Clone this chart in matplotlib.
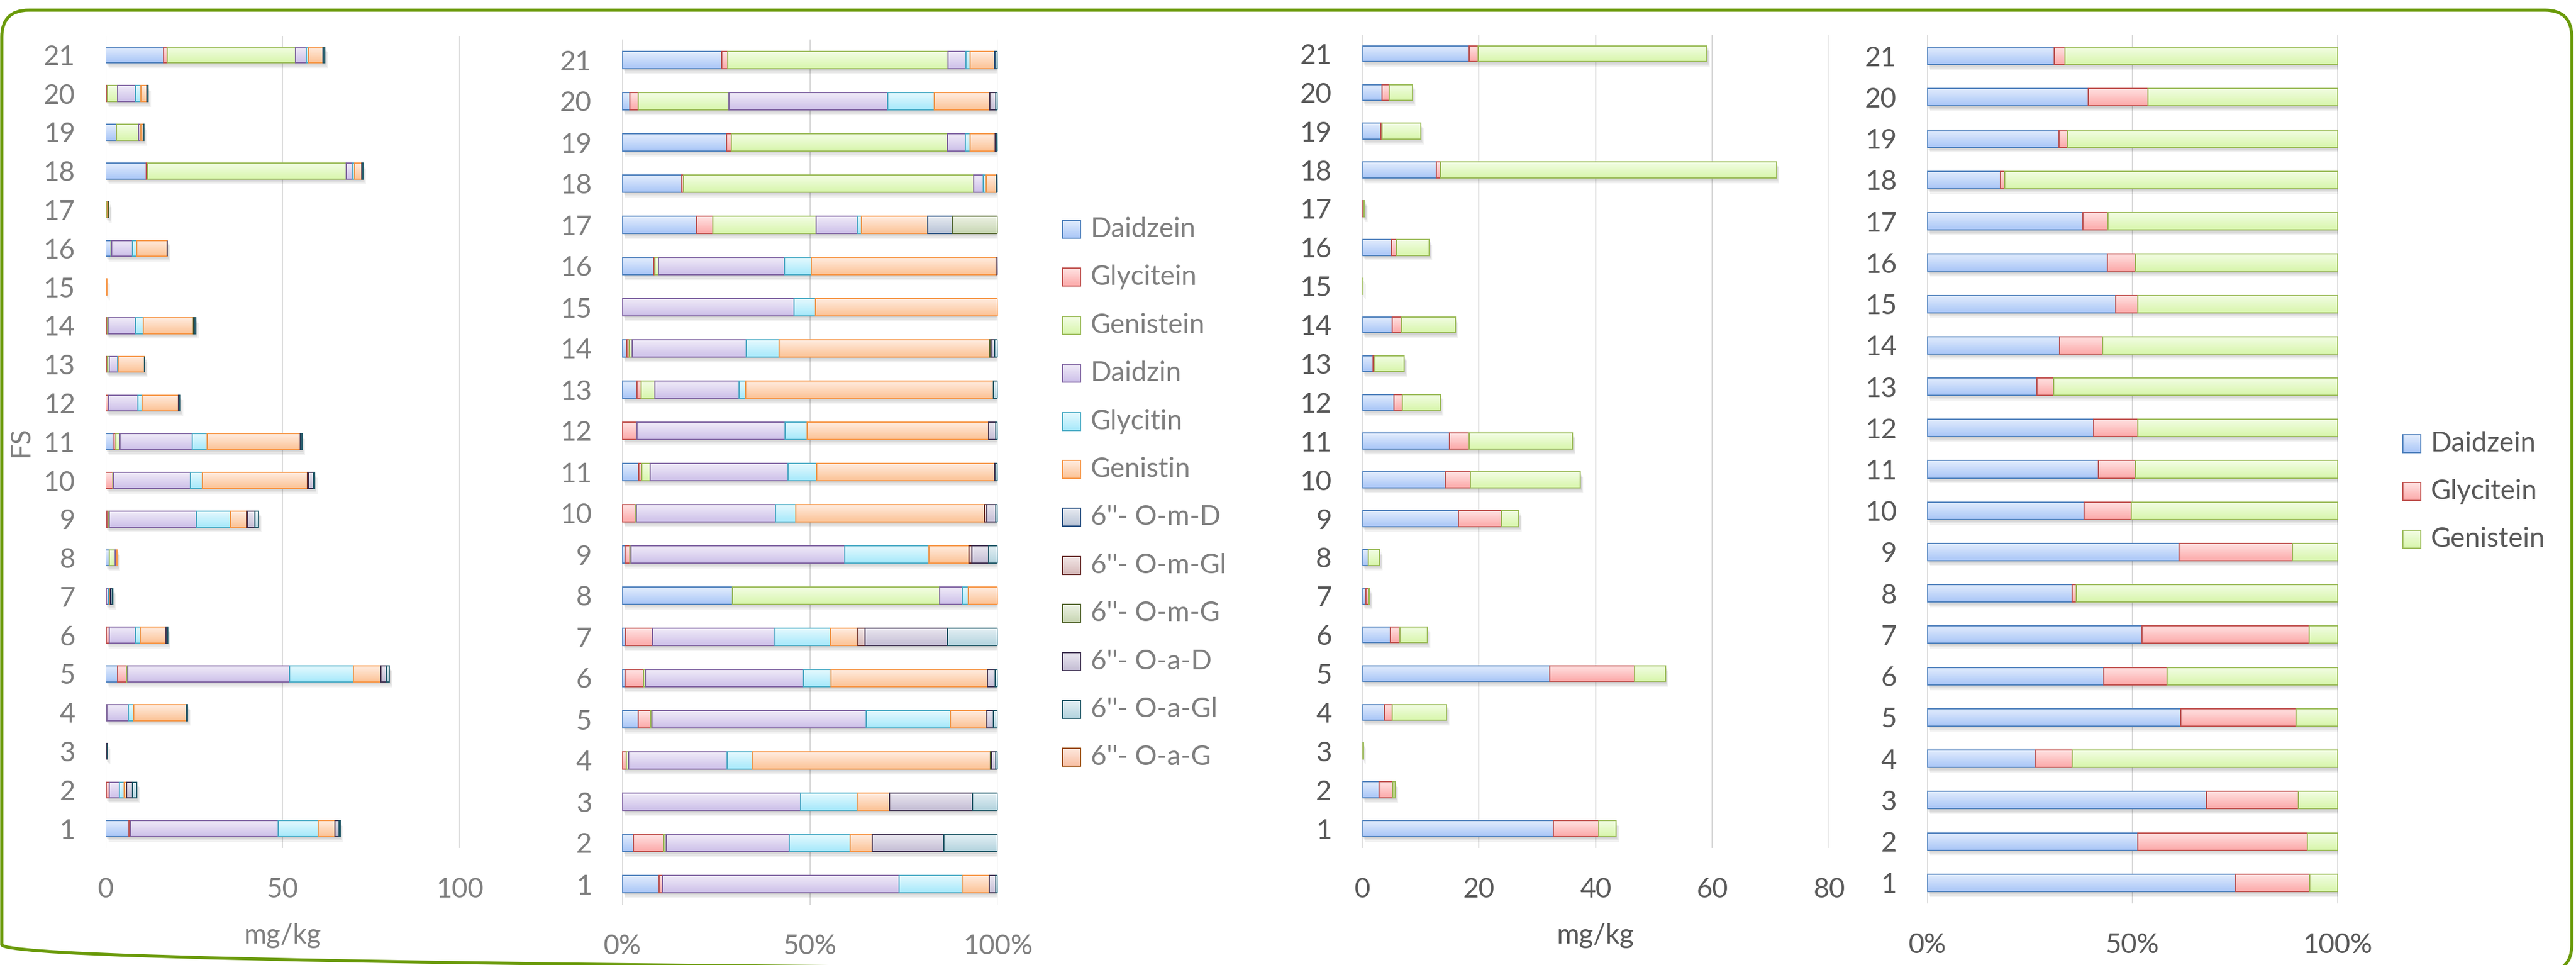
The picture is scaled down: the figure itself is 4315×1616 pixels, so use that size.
import numpy as np
import matplotlib.pyplot as plt
from matplotlib.colors import to_rgb
from matplotlib.patches import Rectangle, FancyBboxPatch
from matplotlib.ticker import PercentFormatter

W, H = 4315, 1616
DPI = 300
plt.rcParams['font.family'] = ['Lato', 'DejaVu Sans']

fs = list(range(1, 22))

# isoflavone forms in mg/kg, FS1 ... FS21
daidzein = [6.55, 0.26, 0, 0, 3.37, 0.14, 0.02, 0.97, 0.35, 0, 2.44, 0, 0.43, 0.31, 0, 1.47, 0.18, 11.49, 2.99, 0.24, 16.43]
glycitein = [0.60, 0.72, 0, 0.23, 2.65, 0.86, 0.15, 0, 0.52, 2.13, 0.44, 0.78, 0.13, 0.17, 0, 0.04, 0.04, 0.36, 0.14, 0.26, 0.93]
genistein = [0, 0.05, 0, 0.16, 0.32, 0.09, 0, 1.82, 0.13, 0.12, 1.22, 0.06, 0.41, 0.18, 0, 0.18, 0.25, 56.20, 6.20, 2.90, 36.39]
daidzin = [41.64, 2.89, 0.28, 6.08, 45.71, 7.35, 0.68, 0.20, 24.62, 21.81, 20.37, 8.31, 2.48, 7.73, 0.16, 5.86, 0.10, 1.82, 0.52, 5.08, 2.91]
glycitin = [11.32, 1.42, 0.09, 1.55, 18.05, 1.30, 0.31, 0.05, 9.68, 3.25, 4.22, 1.22, 0.19, 2.24, 0.02, 1.24, 0.01, 0.58, 0.14, 1.48, 0.68]
genistin = [4.63, 0.53, 0.05, 14.71, 7.70, 7.28, 0.15, 0.26, 4.58, 29.67, 26.31, 10.19, 7.31, 14.28, 0.17, 8.65, 0.16, 1.96, 0.72, 1.78, 4.03]
om_d = [0, 0, 0, 0, 0, 0, 0, 0, 0, 0, 0, 0, 0, 0, 0, 0, 0.06, 0, 0, 0, 0.19]
om_gl = [0, 0, 0, 0, 0, 0, 0.04, 0, 0.35, 0.35, 0, 0, 0, 0, 0, 0, 0, 0, 0, 0, 0]
om_g = [0, 0, 0, 0.09, 0, 0, 0, 0, 0, 0, 0, 0, 0, 0.10, 0, 0, 0.11, 0, 0, 0, 0]
oa_d = [1.19, 1.68, 0.13, 0.23, 1.52, 0.37, 0.46, 0, 1.94, 1.36, 0.22, 0.40, 0, 0.23, 0, 0.04, 0, 0.15, 0.03, 0.18, 0]
oa_gl = [0.33, 1.26, 0.04, 0.14, 0.88, 0.12, 0.28, 0, 1.04, 0.35, 0.28, 0.13, 0.13, 0.23, 0, 0, 0, 0.15, 0.04, 0.07, 0.37]
oa_g = [0] * 21

# aglycones in mg/kg, FS1 ... FS21
agl_daidzein = [32.71, 2.92, 0.136, 3.81, 32.13, 4.80, 0.68, 1.07, 16.48, 14.30, 15.02, 5.43, 1.93, 5.16, 0.069, 5.06, 0.19, 12.68, 3.23, 3.40, 18.30]
agl_glycitein = [7.82, 2.35, 0.045, 1.30, 14.55, 1.72, 0.53, 0.03, 7.41, 4.28, 3.29, 1.46, 0.30, 1.67, 0.008, 0.80, 0.03, 0.78, 0.21, 1.25, 1.57]
agl_genistein = [2.97, 0.42, 0.019, 9.34, 5.27, 4.64, 0.09, 1.93, 2.97, 18.83, 17.74, 6.52, 5.00, 9.13, 0.073, 5.68, 0.28, 57.50, 6.62, 4.00, 39.20]

forms = ["Daidzein", "Glycitein", "Genistein", "Daidzin", "Glycitin", "Genistin",
         "6''- O-m-D", "6''- O-m-Gl", "6''- O-m-G", "6''- O-a-D", "6''- O-a-Gl", "6''- O-a-G"]
all_forms = [daidzein, glycitein, genistein, daidzin, glycitin, genistin,
             om_d, om_gl, om_g, oa_d, oa_gl, oa_g]
aglycones = [agl_daidzein, agl_glycitein, agl_genistein]

# fill runs light (top) to deeper (bottom), outline in the darker tone
TOPS = ['#e3edfd', '#ffe3e3', '#f3fde5', '#f0ebf8', '#e5f9fe', '#ffece0',
        '#e7ebf1', '#f2e7e7', '#ecf2e4', '#eae7f0', '#e4f0f4', '#fee8de']
BOTTOMS = ['#a9c6f7', '#fca9a9', '#d8f6ac', '#cdc0e9', '#a6e9fb', '#fcc396',
           '#b8c3d6', '#d6b8b8', '#c8d6b3', '#c4bdd4', '#b3d3de', '#f8c0a4']
EDGES = ['#4f81bd', '#c0504d', '#9bbb59', '#8064a2', '#4bacc6', '#f79646',
         '#1f497d', '#632523', '#4f6228', '#3f3151', '#215968', '#984807']

GRID = '#d9d9d9'
LIGHT_TXT = '#7f7f7f'
DARK_TXT = '#595959'
FSIZE = 11


def gradient(i):
    t = np.linspace(0, 1, 32)[:, None, None]
    return (1 - t) * np.array(to_rgb(BOTTOMS[i])) + t * np.array(to_rgb(TOPS[i]))


def px_axes(fig, left, top, right, bottom):
    return fig.add_axes([left / W, 1 - bottom / H, (right - left) / W, (bottom - top) / H])


def stacked(ax, series, height, xmax, share=False):
    vals = np.array(series, dtype=float)
    if share:
        vals = vals / vals.sum(axis=0)
    y = np.arange(vals.shape[1])
    ax.set_xlim(0, xmax)
    ax.set_ylim(-0.5, len(y) - 0.5)
    bb = ax.get_window_extent()
    dx = xmax / bb.width
    dy = len(y) / bb.height

    # soft drop shadow under each whole bar
    total = vals.sum(axis=0)
    for k in range(1, 5):
        ax.barh(y - 2.2 * k * dy, total, height, left=1.2 * k * dx,
                color='black', alpha=0.05, lw=0, zorder=1)

    left = np.zeros(len(y))
    for i, row in enumerate(vals):
        bars = ax.barh(y, row, height, left=left, facecolor='none',
                       edgecolor=EDGES[i], linewidth=0.45, zorder=3)
        for p in bars:
            if p.get_width() <= 0:
                p.set_visible(False)
                continue
            x0, y0 = p.get_x(), p.get_y()
            ax.imshow(gradient(i), origin='lower', aspect='auto', interpolation='bilinear',
                      extent=(x0, x0 + p.get_width(), y0, y0 + p.get_height()), zorder=2)
        left += row

    ax.set_xlim(0, xmax)
    ax.set_ylim(-0.5, len(y) - 0.5)
    ax.set_yticks(y)
    ax.set_yticklabels(fs)
    for s in ax.spines.values():
        s.set_visible(False)
    ax.set_axisbelow(True)
    ax.xaxis.grid(True, color=GRID, lw=0.5, zorder=0)
    ax.tick_params(length=0, labelsize=FSIZE)
    ax.tick_params(axis='y', pad=12.2)
    ax.tick_params(axis='x', pad=11.8)


fig = plt.figure(figsize=(W / DPI, H / DPI), dpi=DPI)

# background layer in pixel units: frame and legends
bg = fig.add_axes([0, 0, 1, 1])
bg.set_xlim(0, W)
bg.set_ylim(H, 0)
bg.axis('off')
bg.add_patch(FancyBboxPatch((3, 17), W - 10, 1610, boxstyle='round,pad=0,rounding_size=45',
                            fill=False, edgecolor='#6a9a0a', linewidth=1.25, clip_on=False))

# mg/kg of every form
ax1 = px_axes(fig, 176.8, 59.5, 769.7, 1420)
stacked(ax1, all_forms, 0.41, 100)
ax1.set_xticks([0, 50, 100])
ax1.set_xlabel('mg/kg', fontsize=FSIZE, color=LIGHT_TXT, va='center')
ax1.xaxis.set_label_coords(0.5, -0.108)
ax1.set_ylabel('FS', fontsize=FSIZE, color=LIGHT_TXT, va='center')
ax1.yaxis.set_label_coords(-0.2402, 0.5)
ax1.tick_params(labelcolor=LIGHT_TXT)

# share of every form
ax2 = px_axes(fig, 1042.3, 66, 1671.4, 1515)
stacked(ax2, all_forms, 0.42, 1, share=True)
ax2.set_xticks([0, 0.5, 1])
ax2.xaxis.set_major_formatter(PercentFormatter(1, decimals=0))
ax2.tick_params(labelcolor=LIGHT_TXT)

# mg/kg of aglycones
ax3 = px_axes(fig, 2281.6, 57.5, 3064, 1420)
stacked(ax3, aglycones, 0.41, 80)
ax3.set_xticks([0, 20, 40, 60, 80])
ax3.set_xlabel('mg/kg', fontsize=FSIZE, color=DARK_TXT, va='center')
ax3.xaxis.set_label_coords(0.5, -0.108)
ax3.tick_params(labelcolor=DARK_TXT)

# share of aglycones
ax4 = px_axes(fig, 3228, 59, 3915.8, 1513)
stacked(ax4, aglycones, 0.42, 1, share=True)
ax4.set_xticks([0, 0.5, 1])
ax4.xaxis.set_major_formatter(PercentFormatter(1, decimals=0))
ax4.tick_params(labelcolor=DARK_TXT)


def legend(x, y0, step, labels, color):
    for i, lab in enumerate(labels):
        yc = y0 + i * step
        bg.imshow(gradient(i), origin='lower', aspect='auto', interpolation='bilinear',
                  extent=(x, x + 30, yc + 15, yc - 15), zorder=2)
        bg.add_patch(Rectangle((x, yc - 15), 30, 30, fill=False, edgecolor=EDGES[i],
                               linewidth=0.45, zorder=3))
        bg.text(x + 47, yc, lab, fontsize=FSIZE, color=color, va='center', ha='left')


legend(1780, 384, 80.4, forms, LIGHT_TXT)
legend(4025, 743, 80, forms[:3], DARK_TXT)
bg.set_xlim(0, W)
bg.set_ylim(H, 0)

fig.savefig('out.png', dpi=DPI)
